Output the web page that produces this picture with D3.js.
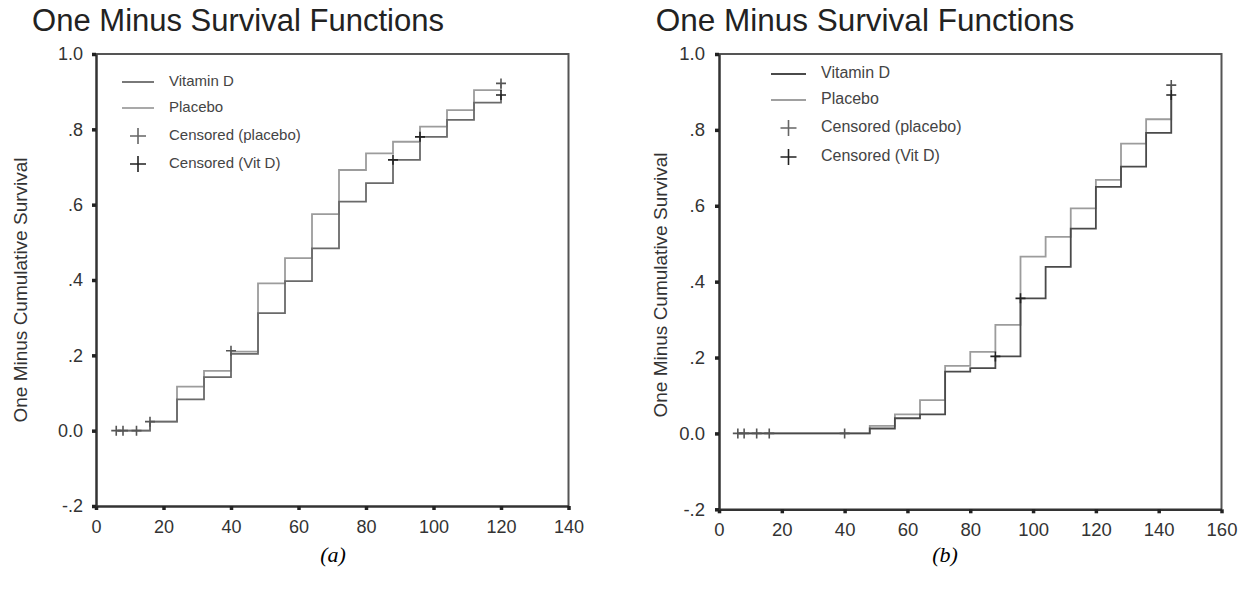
<!DOCTYPE html>
<html>
<head>
<meta charset="utf-8">
<script src="https://cdn.jsdelivr.net/npm/d3@7"></script>
<style>
  body { margin: 0; background: #fff; }
  svg { display: block; font-family: Arial, "Liberation Sans", sans-serif; }
</style>
</head>
<body>
<svg id="chart" width="1245" height="592"></svg>
<script>
// ---- data, panel (a) ----
var stepTimesA = [6, 16, 24, 32, 40, 48, 56, 64, 72, 80, 88, 96, 104, 112, 120];
var vitDA      = [0, 0.024, 0.083, 0.142, 0.204, 0.312, 0.397, 0.484, 0.608, 0.657, 0.719, 0.780, 0.825, 0.871, 0.891];
var placeboA   = [0, 0.024, 0.117, 0.159, 0.210, 0.391, 0.458, 0.575, 0.692, 0.736, 0.767, 0.807, 0.851, 0.904, 0.922];
var censPlacTimesA = [6, 8, 12, 16, 40, 120];
var censPlacValsA  = [0, 0, 0, 0.024, 0.212, 0.922];
var censVitTimesA  = [88, 96, 120];
var censVitValsA   = [0.719, 0.780, 0.891];
var xTicksA = [0, 20, 40, 60, 80, 100, 120, 140];

// ---- data, panel (b) ----
var stepTimesB = [6, 48, 56, 64, 72, 80, 88, 96, 104, 112, 120, 128, 136, 144];
var vitDB      = [0, 0.013, 0.040, 0.050, 0.163, 0.172, 0.203, 0.356, 0.439, 0.540, 0.650, 0.703, 0.792, 0.892];
var placeboB   = [0, 0.020, 0.050, 0.088, 0.178, 0.215, 0.286, 0.466, 0.518, 0.593, 0.668, 0.764, 0.828, 0.918];
var censPlacTimesB = [6, 8, 12, 16, 40, 144];
var censPlacValsB  = [0, 0, 0, 0, 0, 0.918];
var censVitTimesB  = [88, 96, 144];
var censVitValsB   = [0.203, 0.356, 0.892];
var xTicksB = [0, 20, 40, 60, 80, 100, 120, 140, 160];

var yTicks = [-0.2, 0, 0.2, 0.4, 0.6, 0.8, 1.0];
var legendLabels = ['Vitamin D', 'Placebo', 'Censored (placebo)', 'Censored (Vit D)'];
var titleText = 'One Minus Survival Functions';
var yLabelText = 'One Minus Cumulative Survival';

var svg = d3.select('#chart');

function zip(a, b) { return a.map(function (d, i) { return [d, b[i]]; }); }

function yFmt(d) {
  if (d === 0) return '0.0';
  if (d === 1) return '1.0';
  return d3.format('.1f')(d).replace('\u2212', '-').replace('0.', '.');
}

function drawPanel(p) {
  var x = d3.scaleLinear().domain([0, p.xMax]).range([p.left, p.right]);
  var y = d3.scaleLinear().domain([-0.2, 1.0]).range([p.bottom, p.top]);
  var g = svg.append('g');

  // title
  g.append('text')
    .attr('x', p.titleX).attr('y', 31)
    .attr('text-anchor', 'middle')
    .attr('font-size', p.titleSize)
    .attr('fill', '#222')
    .text(titleText);

  // y label
  g.append('text')
    .attr('transform', 'translate(' + p.yLabelX + ',' + p.yLabelY + ') rotate(-90)')
    .attr('text-anchor', 'middle')
    .attr('dominant-baseline', 'middle')
    .attr('font-size', p.yLabelSize)
    .attr('fill', '#333')
    .text(yLabelText);

  // frame top/right
  g.append('path')
    .attr('d', 'M' + p.left + ',' + p.top + 'H' + p.right + 'V' + p.bottom)
    .attr('fill', 'none').attr('stroke', '#555').attr('stroke-width', 2);

  // axes
  var xa = g.append('g')
    .attr('transform', 'translate(0,' + p.bottom + ')')
    .call(d3.axisBottom(x).tickValues(p.xTicks).tickSize(4).tickPadding(10).tickSizeOuter(0));
  var ya = g.append('g')
    .attr('transform', 'translate(' + p.left + ',0)')
    .call(d3.axisLeft(y).tickValues(yTicks).tickFormat(yFmt).tickSize(4).tickPadding(p.yPad).tickSizeOuter(0));
  [xa, ya].forEach(function (a) {
    a.select('.domain').attr('stroke', '#333').attr('stroke-width', 2.5);
    a.selectAll('.tick line').attr('stroke', '#222').attr('stroke-width', 3.5);
    a.selectAll('.tick text').attr('font-size', p.tickSize).attr('fill', '#333')
      .attr('font-family', 'Arial, "Liberation Sans", sans-serif');
  });

  var step = d3.line()
    .x(function (d) { return x(d[0]); })
    .y(function (d) { return y(d[1]); })
    .curve(d3.curveStepAfter);

  g.append('path').datum(zip(p.times, p.placebo))
    .attr('d', step).attr('fill', 'none')
    .attr('stroke', '#9c9c9c').attr('stroke-width', 1.8);
  g.append('path').datum(zip(p.times, p.vitD))
    .attr('d', step).attr('fill', 'none')
    .attr('stroke', p.vitColor).attr('stroke-width', 1.8);

  function plus(sel, cx, cy, r, color, w) {
    sel.append('path')
      .attr('d', 'M' + (cx - r) + ',' + cy + 'H' + (cx + r) + 'M' + cx + ',' + (cy - r) + 'V' + (cy + r))
      .attr('stroke', color).attr('stroke-width', w).attr('fill', 'none');
  }
  zip(p.censPlacT, p.censPlacV).forEach(function (d) {
    plus(g, x(d[0]), y(d[1]), 5, '#555', 1.6);
  });
  zip(p.censVitT, p.censVitV).forEach(function (d) {
    plus(g, x(d[0]), y(d[1]), 5, '#222', 1.6);
  });

  // legend
  var lg = g.append('g');
  legendLabels.forEach(function (lab, i) {
    var yy = p.legY[i];
    if (i === 0) lg.append('line').attr('x1', p.legLine[0]).attr('x2', p.legLine[1])
      .attr('y1', yy).attr('y2', yy).attr('stroke', p.vitColor).attr('stroke-width', 1.8);
    if (i === 1) lg.append('line').attr('x1', p.legLine[0]).attr('x2', p.legLine[1])
      .attr('y1', yy).attr('y2', yy).attr('stroke', '#a0a0a0').attr('stroke-width', 1.8);
    if (i === 2) plus(lg, (p.legLine[0] + p.legLine[1]) / 2, yy, 8, '#666', 1.6);
    if (i === 3) plus(lg, (p.legLine[0] + p.legLine[1]) / 2, yy, 8, '#222', 1.6);
    lg.append('text')
      .attr('x', p.legText).attr('y', yy)
      .attr('dominant-baseline', 'middle')
      .attr('font-size', p.legSize)
      .attr('fill', '#444')
      .text(lab);
  });

  // caption
  g.append('text')
    .attr('x', p.capX).attr('y', 562)
    .attr('text-anchor', 'middle')
    .attr('font-family', '"Liberation Serif", "DejaVu Serif", serif')
    .attr('font-style', 'italic')
    .attr('font-size', 22)
    .attr('fill', '#000')
    .text(p.caption);
}

drawPanel({
  left: 96, right: 568.5, top: 54, bottom: 506, xMax: 140, xTicks: xTicksA,
  times: stepTimesA, vitD: vitDA, placebo: placeboA,
  censPlacT: censPlacTimesA, censPlacV: censPlacValsA,
  censVitT: censVitTimesA, censVitV: censVitValsA, vitColor: '#6a6a6a',
  titleX: 238, titleSize: 31, yLabelX: 22, yLabelY: 290, yLabelSize: 19,
  tickSize: 18, yPad: 9,
  legY: [82, 108, 136, 164], legLine: [122, 154], legText: 169, legSize: 15,
  capX: 333, caption: '(a)'
});

drawPanel({
  left: 719, right: 1221.5, top: 54, bottom: 509.3, xMax: 160, xTicks: xTicksB,
  times: stepTimesB, vitD: vitDB, placebo: placeboB,
  censPlacT: censPlacTimesB, censPlacV: censPlacValsB,
  censVitT: censVitTimesB, censVitV: censVitValsB, vitColor: '#4a4a4a',
  titleX: 865, titleSize: 31.5, yLabelX: 662, yLabelY: 285, yLabelSize: 19,
  tickSize: 18.5, yPad: 10,
  legY: [74, 100, 128, 157], legLine: [771, 806], legText: 821, legSize: 16,
  capX: 945, caption: '(b)'
});
</script>
</body>
</html>
